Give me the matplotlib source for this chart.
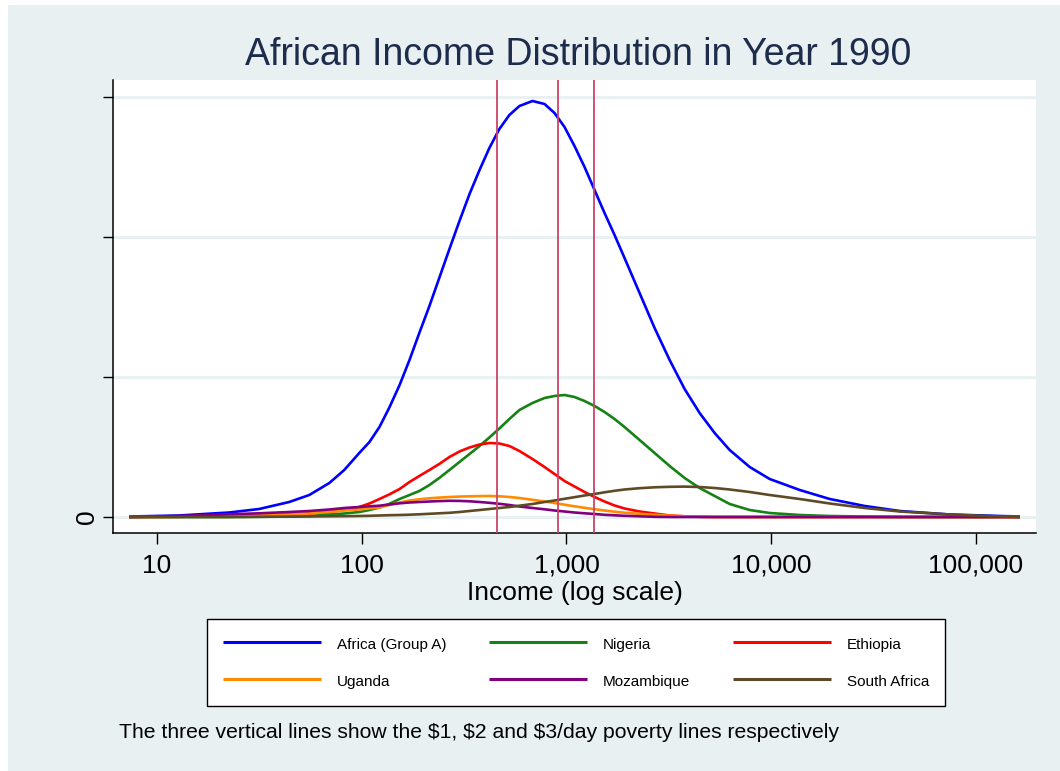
import matplotlib
matplotlib.use("Agg")
import matplotlib.pyplot as plt
from matplotlib.patches import Rectangle

plt.rcParams['font.family'] = ['Liberation Sans', 'DejaVu Sans']

# income grid (log scale axis)
income = [7.3, 12.8, 22.5, 31.5, 44.2, 55.4, 69.4, 82.1, 97.2, 109,
          122, 136, 153, 171, 191, 214, 239, 268, 300, 336,
          376, 420, 470, 526, 589, 682, 781, 874, 978, 1094,
          1225, 1371, 1534, 1717, 1921, 2275, 2694, 3190, 3776, 4471,
          5293, 6268, 7851, 9833, 13785, 19325, 28660, 42500, 74640, 131080,
          164200]

# density, arbitrary units (axis ticks every 140 units)
africa = [0.5, 1.5, 4.5, 8, 15, 22, 34, 47, 64, 75,
          90, 109, 132, 157, 184, 211, 239, 268, 296, 323,
          347, 369, 388, 402, 411, 416, 413, 404, 390, 371,
          350, 327, 304, 282, 259, 224, 189, 157, 128, 104,
          84, 67, 50, 38, 27, 18, 11, 6, 2.5, 1,
          0.5]
nigeria = [0, 0, 0, 0.2, 0.5, 1, 2.5, 3.5, 5, 7,
           9.5, 13, 18, 22, 26, 32, 39, 47, 55, 63,
           71, 79.5, 88.5, 98, 107, 114, 119, 121, 122, 120,
           116, 111, 105, 98, 90, 77, 64, 51, 39, 29,
           21, 13, 7, 4, 2, 1, 0.5, 0, 0, 0,
           0]
ethiopia = [0, 0.2, 1, 1.5, 2.5, 3.5, 5, 7, 10, 13.5,
            18, 22.5, 28, 35, 41, 47, 53, 60, 65.5, 69.5,
            72.5, 74, 73.5, 71, 66, 58, 50, 43, 36, 30.5,
            25, 20, 15.5, 11.5, 8.5, 5.5, 3.5, 1.5, 0.7, 0.2,
            0, 0, 0, 0, 0, 0, 0, 0, 0, 0,
            0]
uganda = [0, 0.2, 1, 1.5, 2.5, 3.5, 5, 6.5, 7.5, 8.5,
          9.5, 12, 14.5, 16.5, 17.7, 18.7, 19.4, 20, 20.4, 20.7,
          20.9, 21, 20.7, 20, 19, 17.2, 15.5, 14, 12.3, 10.7,
          9.2, 7.8, 6.5, 5.3, 4.3, 3.2, 2.2, 1.3, 0.7, 0.2,
          0, 0, 0, 0, 0, 0, 0, 0, 0, 0,
          0]
mozambique = [0, 1, 2.7, 3.7, 5, 6, 7.5, 9, 10, 10.7,
              11.3, 12.5, 13.7, 14.5, 15, 15.5, 15.9, 16.2, 16.1, 15.7,
              15, 14.2, 13.2, 12, 10.5, 9, 7.7, 6.5, 5.5, 4.5,
              3.7, 3, 2.2, 1.7, 1.2, 0.7, 0.2, 0, 0, 0,
              0, 0, 0, 0, 0, 0, 0, 0, 0, 0,
              0]
south_africa = [0, 0, 0, 0.2, 0.4, 0.5, 0.7, 0.8, 1, 1.2,
                1.5, 1.8, 2, 2.3, 2.7, 3.2, 3.7, 4.2, 5, 6,
                7, 8, 9, 10, 11.3, 13, 15, 16.5, 18.2, 19.8,
                21.5, 23, 24.7, 26.2, 27.5, 28.8, 29.7, 30.2, 30.4, 30,
                29, 27.5, 25, 22, 18, 13.5, 9, 5.5, 2.5, 0.5,
                0]

# $1, $2, $3 a day (annual)
poverty_lines = [456.25, 912.5, 1368.75]

x_ticks = [10, 100, 1000, 10000, 100000]
x_ticklabels = ["10", "100", "1,000", "10,000", "100,000"]
y_ticks = [0, 140, 280, 420]
y_ticklabels = ["0", "", "", ""]

BG = "#E8F0F2"

fig = plt.figure(figsize=(10.6, 7.71), dpi=100)
fig.patch.set_facecolor("white")
fig.patches.append(Rectangle((8 / 1060, 0), 1 - 8 / 1060, 1 - 5 / 771,
                             transform=fig.transFigure, facecolor=BG,
                             edgecolor="none", zorder=-10))

ax = fig.add_axes([113 / 1060, 1 - 533 / 771, 923 / 1060, 453 / 771])
ax.set_facecolor("white")

series = [
    ("Africa (Group A)", africa, "#0000FF"),
    ("Nigeria", nigeria, "#148214"),
    ("Ethiopia", ethiopia, "#FF0000"),
    ("Uganda", uganda, "#FF8C00"),
    ("Mozambique", mozambique, "#800080"),
    ("South Africa", south_africa, "#5E4B25"),
]
lines = {}
for name, vals, col in series:
    ln, = ax.plot(income, vals, color=col, lw=1.9, zorder=3,
                  solid_joinstyle="round", solid_capstyle="butt")
    lines[name] = ln

for p in poverty_lines:
    ax.axvline(p, color="#C9456A", lw=1.3, zorder=4)

ax.set_xscale("log")
ax.set_xlim(6.09, 196600)
ax.set_ylim(-16, 437)

ax.set_xticks(x_ticks)
ax.set_xticklabels(x_ticklabels)
ax.minorticks_off()
ax.set_yticks(y_ticks)
ax.set_yticklabels(y_ticklabels, rotation=90, va="center")
ax.tick_params(axis="x", length=8, width=1, labelsize=19, pad=7)
ax.tick_params(axis="y", length=7, width=1, labelsize=19, pad=3)

ax.grid(axis="y", color=BG, lw=2.2, zorder=1)
ax.set_axisbelow(True)

for s in ["top", "right"]:
    ax.spines[s].set_visible(False)
for s in ["left", "bottom"]:
    ax.spines[s].set_linewidth(1.1)
    ax.spines[s].set_color("black")

ax.set_xlabel("Income (log scale)", fontsize=19, labelpad=2)

fig.text(578 / 1060, 1 - 55 / 771, "African Income Distribution in Year 1990",
         fontsize=27, color="#1E2C4C", ha="center", va="center")

order = ["Africa (Group A)", "Uganda", "Nigeria", "Mozambique", "Ethiopia", "South Africa"]
leg = fig.legend([lines[n] for n in order], order, ncol=3, mode="expand",
                 loc="center", bbox_to_anchor=(207 / 1060, 1 - 705 / 771, 738 / 1060, 85 / 771),
                 fontsize=11, frameon=True, fancybox=False, framealpha=1,
                 handlelength=6.4, handleheight=1.44, handletextpad=1.05,
                 labelspacing=1.24, borderpad=1.05, borderaxespad=0)
leg.get_frame().set_edgecolor("black")
leg.get_frame().set_linewidth(1.0)
leg.get_frame().set_facecolor("white")
for h in leg.legend_handles:
    h.set_linewidth(2.2)

fig.text(119 / 1060, 1 - 733 / 771,
         "The three vertical lines show the \\$1, \\$2 and \\$3/day poverty lines respectively",
         fontsize=15.2, ha="left", va="center")

fig.savefig("out.png", dpi=100, facecolor=fig.get_facecolor())
